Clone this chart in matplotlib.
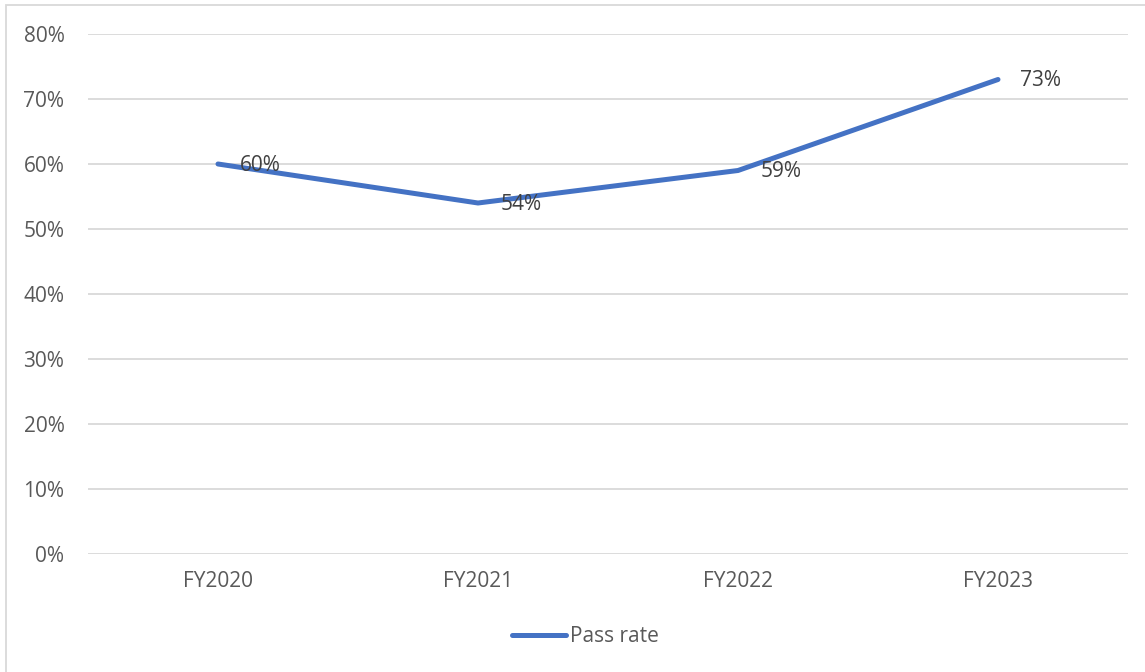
import matplotlib as mpl
import matplotlib.pyplot as plt
from matplotlib.lines import Line2D
from matplotlib.patches import Rectangle

mpl.rcParams.update(
    {
        "font.family": ["Open Sans", "DejaVu Sans"],
        "font.size": 15,
    }
)

years = ["FY2020", "FY2021", "FY2022", "FY2023"]
pass_rate = [60, 54, 59, 73]
label_text = ["60%", "54%", "59%", "73%"]
y_ticks = [0, 10, 20, 30, 40, 50, 60, 70, 80]

W, H = 1145, 672
LINE_COLOR = "#4472C4"
TEXT_COLOR = "#595959"
GRID_COLOR = "#D9D9D9"

fig = plt.figure(figsize=(W / 100, H / 100), dpi=100)
fig.patches.append(
    Rectangle((6 / W, -0.1), 1.2, 1.1 - 5 / H, transform=fig.transFigure,
              fill=False, edgecolor=GRID_COLOR, linewidth=1.3)
)

# plot area: x 88..1128, y 34..554 (pixels from top)
ax = fig.add_axes([88 / W, 1 - 554 / H, 1040 / W, 520 / H])
x = list(range(len(years)))
ax.plot(x, pass_rate, color=LINE_COLOR, linewidth=3.6, solid_capstyle="round",
        solid_joinstyle="round", zorder=3)
for xi, yi, t in zip(x, pass_rate, label_text):
    ax.annotate(t, (xi, yi), xytext=(16, -1), textcoords="offset points",
                ha="left", va="center", color="#404040", fontsize=15, zorder=4)

ax.set_xlim(-0.5, len(years) - 0.5)
ax.set_ylim(0, 80)
ax.set_yticks(y_ticks)
ax.set_yticklabels([f"{v}%" for v in y_ticks])
ax.set_xticks(x)
ax.set_xticklabels(years)
ax.grid(axis="y", color=GRID_COLOR, linewidth=1.3)
ax.set_axisbelow(True)
for side in ["top", "right", "left", "bottom"]:
    ax.spines[side].set_visible(False)
ax.tick_params(axis="both", length=0, colors=TEXT_COLOR, labelsize=15)
ax.tick_params(axis="y", pad=17)
ax.tick_params(axis="x", pad=12)

handle = Line2D([], [], color=LINE_COLOR, linewidth=3.6, solid_capstyle="round")
fig.legend([handle], ["Pass rate"], loc="center",
           bbox_to_anchor=(0.5 + 13 / W, 1 - 637 / H),
           frameon=False, handlelength=2.6, handletextpad=0.2, fontsize=15,
           labelcolor=TEXT_COLOR)

fig.savefig("out.png", dpi=100)
